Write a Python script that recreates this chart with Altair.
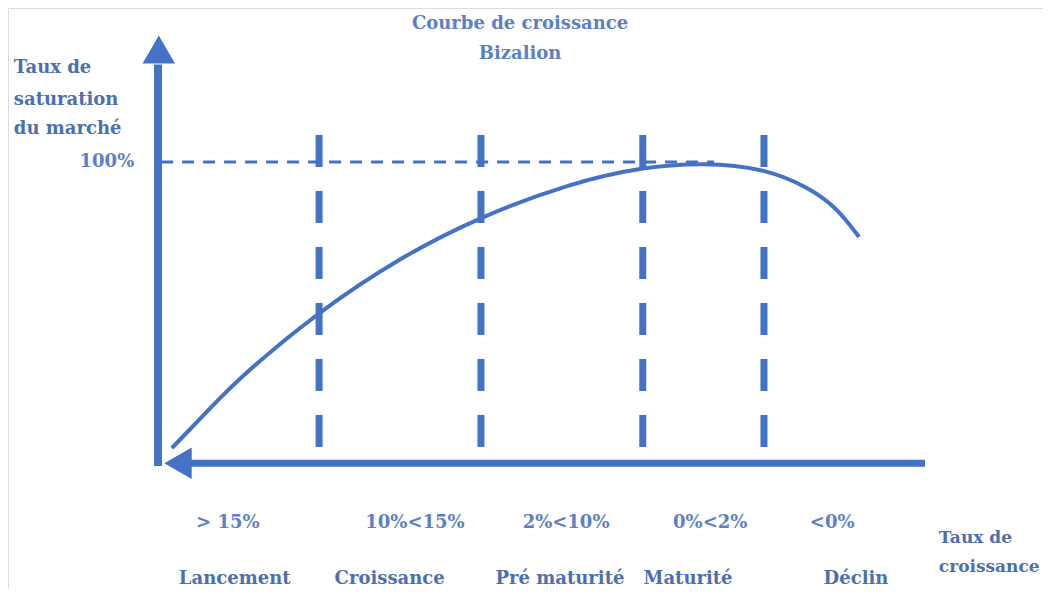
import altair as alt
import pandas as pd

# ---------------- data ----------------
stage_bounds = [21.0, 42.1, 63.2, 79.0]
curve_x = [1.8, 6.8, 11.1, 20.9, 31.6, 42.0, 53.7, 63.3, 71.1, 79.0, 85.0, 88.5, 91.4]
curve_y = [4.6, 18.0, 29.2, 50.1, 68.3, 81.8, 92.9, 98.4, 99.8, 98.0, 91.3, 84.7, 75.0]
growth_labels = ["> 15%", "10%<15%", "2%<10%", "0%<2%", "<0%"]
growth_label_x = [9.1, 33.5, 53.2, 72.0, 87.9]
stage_names = ["Lancement", "Croissance", "Pré maturité", "Maturité", "Déclin"]
stage_name_x = [10.0, 30.2, 52.4, 69.1, 91.0]
title_lines = ["Courbe de croissance", "Bizalion"]
title_y = [146.0, 136.0]
y_title_lines = ["Taux de", "saturation", "du marché"]
y_title_y = [131.3, 120.7, 111.0]
x_title_lines = ["Taux de", "croissance"]
x_title_y = [-25.3, -35.0]
saturation_label = ["100%"]

# ---------------- style ----------------
LINE = "#4472C4"
TEXT = "#4d6fb0"
TITLE = "#5b80c6"
FONT = "DejaVu Serif"
FS = 18

xs = alt.Scale(domain=[-19.56, 115.38], nice=False, zero=False)
ys = alt.Scale(domain=[-42.33, 151.33], nice=False, zero=False)


def X(f="x"):
    return alt.X(f"{f}:Q", scale=xs, axis=None)


def Y(f="y"):
    return alt.Y(f"{f}:Q", scale=ys, axis=None)


# axes (drawn as marks)
vaxis = alt.Chart(pd.DataFrame({"x": [0.0], "y": [-1.3], "y2": [132.5]})).mark_rule(
    color=LINE, strokeWidth=8, strokeCap="butt"
).encode(x=X(), y=Y(), y2="y2:Q")

haxis = alt.Chart(pd.DataFrame({"x": [3.0], "x2": [100.0], "y": [-0.4]})).mark_rule(
    color=LINE, strokeWidth=7, strokeCap="butt"
).encode(x=X(), x2="x2:Q", y=Y())

up_arrow = alt.Chart(pd.DataFrame({"x": [0.1], "y": [137.5]})).mark_point(
    shape="triangle-up", filled=True, size=1050, color=LINE, opacity=1
).encode(x=X(), y=Y())

left_arrow = alt.Chart(pd.DataFrame({"x": [2.6], "y": [-0.4]})).mark_point(
    shape="triangle-left", filled=True, size=1000, color=LINE, opacity=1
).encode(x=X(), y=Y())

# stage boundaries
vdash = alt.Chart(pd.DataFrame({"x": stage_bounds, "y": [109.0] * 4, "y2": [5.0] * 4})).mark_rule(
    color=LINE, strokeWidth=7, strokeDash=[32, 24], strokeCap="butt"
).encode(x=X(), y=Y(), y2="y2:Q")

hdash = alt.Chart(pd.DataFrame({"x": [0.4], "x2": [72.5], "y": [100.0]})).mark_rule(
    color=LINE, strokeWidth=3, strokeDash=[12, 9], strokeCap="butt"
).encode(x=X(), x2="x2:Q", y=Y())

curve = alt.Chart(pd.DataFrame({"x": curve_x, "y": curve_y})).mark_line(
    color=LINE, strokeWidth=4, interpolate="basis"
).encode(x=X(), y=Y(), order="x:Q")


def texts(labels, xv, yv, align="center", color=TEXT, size=FS, baseline="middle"):
    df = pd.DataFrame({"t": labels, "x": xv, "y": yv})
    return alt.Chart(df).mark_text(
        font=FONT, fontSize=size, fontWeight="bold", color=color,
        align=align, baseline=baseline
    ).encode(x=X(), y=Y(), text="t:N")


title_t = texts(title_lines, [47.2, 47.2], title_y, color=TITLE)
ytitle_t = texts(y_title_lines, [-18.8] * 3, y_title_y, align="left")
sat_t = texts(saturation_label, [-3.1], [100.0], align="right", color=TITLE)
growth_t = texts(growth_labels, growth_label_x, [-20.3] * 5, color=TITLE)
stage_t = texts(stage_names, stage_name_x, [-40.6] * 5, baseline="alphabetic")
xtitle_t = texts(x_title_lines, [101.8, 101.8], x_title_y, align="left", size=17)

chart = alt.layer(
    hdash, vdash, curve, vaxis, haxis, up_arrow, left_arrow,
    title_t, ytitle_t, sat_t, growth_t, stage_t, xtitle_t
).properties(
    width=1035, height=581, padding=0,
    autosize=alt.AutoSizeParams(type="none")
).configure_view(stroke=None).configure(background="white")

chart.save("out.html", embed_options={"renderer": "svg", "actions": False})
